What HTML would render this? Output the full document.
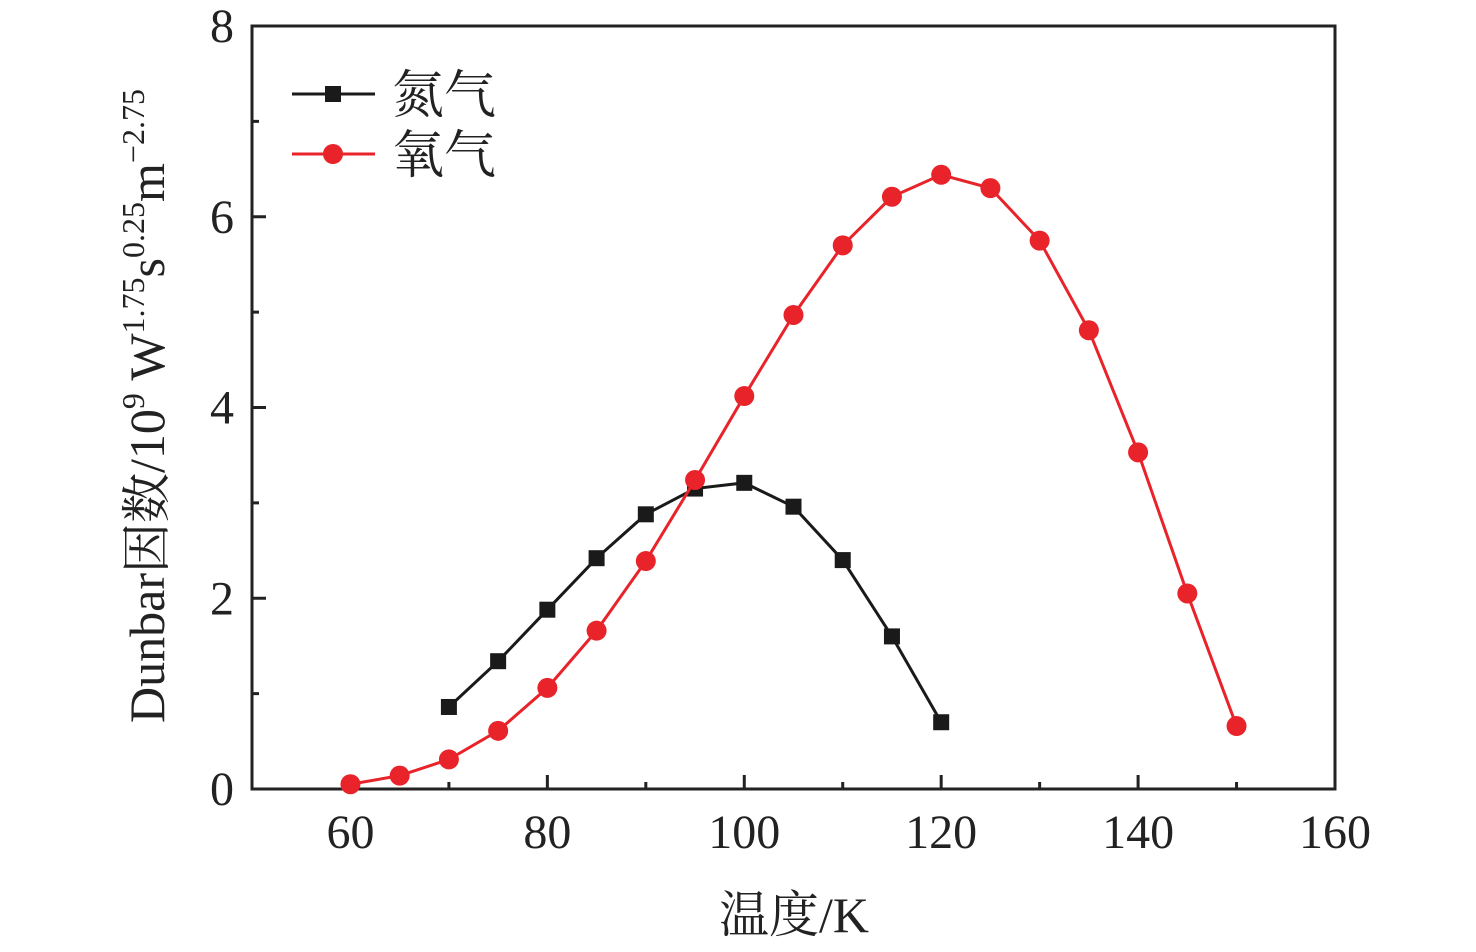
<!DOCTYPE html>
<html><head><meta charset="utf-8"><style>
body{margin:0;background:#fff}
svg text{font-family:"Liberation Serif","Noto Serif CJK SC",serif;fill:#222}
</style></head><body>
<svg id="c" width="1476" height="947"></svg>
<script>
const n2X=[70,75,80,85,90,95,100,105,110,115,120];
const n2Y=[0.86,1.34,1.88,2.42,2.88,3.15,3.21,2.96,2.40,1.60,0.70];
const o2X=[60,65,70,75,80,85,90,95,100,105,110,115,120,125,130,135,140,145,150];
const o2Y=[0.05,0.14,0.31,0.61,1.06,1.66,2.39,3.24,4.12,4.97,5.70,6.21,6.44,6.30,5.75,4.81,3.53,2.05,0.66];
const xTicks=[60,80,100,120,140,160];
const yTicks=[0,2,4,6,8];
const L=252,R=1335,T=26,B=789;
const sx=v=>L+(v-50)/(160-50)*(R-L);
const sy=v=>B-v/8*(B-T);
const svg=document.getElementById('c');
const NS='http://www.w3.org/2000/svg';
function mk(t,a,p){const e=document.createElementNS(NS,t);for(const k in a)e.setAttribute(k,a[k]);(p||svg).appendChild(e);return e;}
let e=mk('rect',{x:L,y:T,width:R-L,height:B-T,fill:'none',stroke:'#222','stroke-width':3});


for(let v=50;v<=160;v+=10){const maj=xTicks.includes(v);e=mk('line',{x1:sx(v),x2:sx(v),y1:B,y2:B-(maj?14:7),stroke:'#222','stroke-width':3});

}
xTicks.forEach(v=>{e=mk('text',{x:sx(v),y:848,'font-size':48,'text-anchor':'middle'});e.textContent=v;

});
for(let v=0;v<=8;v+=1){const maj=yTicks.includes(v);e=mk('line',{x1:L,x2:L+(maj?14:7),y1:sy(v),y2:sy(v),stroke:'#222','stroke-width':3});

}
yTicks.forEach(v=>{e=mk('text',{x:234,y:sy(v)+16,'font-size':48,'text-anchor':'end'});e.textContent=v;

});
e=mk('text',{x:794,y:932,'font-size':50,'text-anchor':'middle'});e.textContent='温度/K';


e=mk('text',{transform:'translate(164,406) rotate(-90)','font-size':50,'text-anchor':'middle'});
e.innerHTML='Dunbar因数/10<tspan dy="-20" font-size="32">9</tspan><tspan dy="20"> W</tspan><tspan dy="-20" font-size="32">1.75</tspan><tspan dy="20">s</tspan><tspan dy="-20" font-size="32">0.25</tspan><tspan dy="20">m</tspan><tspan dy="-20" font-size="32">−2.75</tspan>';


function series(xs,ys,col,shape,name){
  const g=mk('g',{});
  
  
  e=mk('polyline',{points:xs.map((x,i)=>sx(x)+','+sy(ys[i])).join(' '),fill:'none',stroke:col,'stroke-width':3},g);
  
  
  xs.forEach((x,i)=>{
    if(shape==='sq')e=mk('rect',{x:sx(x)-8,y:sy(ys[i])-8,width:16,height:16,fill:col},g);
    else e=mk('circle',{cx:sx(x),cy:sy(ys[i]),r:10,fill:col},g);
    
    
  });
}
series(n2X,n2Y,'#1a1a1a','sq','nitrogen-series');
series(o2X,o2Y,'#e8232a','ci','oxygen-series');
function leg(y,col,shape,label,name){
  const g=mk('g',{});
  
  
  mk('line',{x1:292,x2:375,y1:y,y2:y,stroke:col,'stroke-width':3},g);
  if(shape==='sq')mk('rect',{x:325,y:y-8,width:16,height:16,fill:col},g);else mk('circle',{cx:333,cy:y,r:10,fill:col},g);
  const t=mk('text',{x:392,y:y+19,'font-size':52},g);t.textContent=label;
}
leg(94,'#1a1a1a','sq','氮气','legend-nitrogen');
leg(154,'#e8232a','ci','氧气','legend-oxygen');
</script>
</body></html>
